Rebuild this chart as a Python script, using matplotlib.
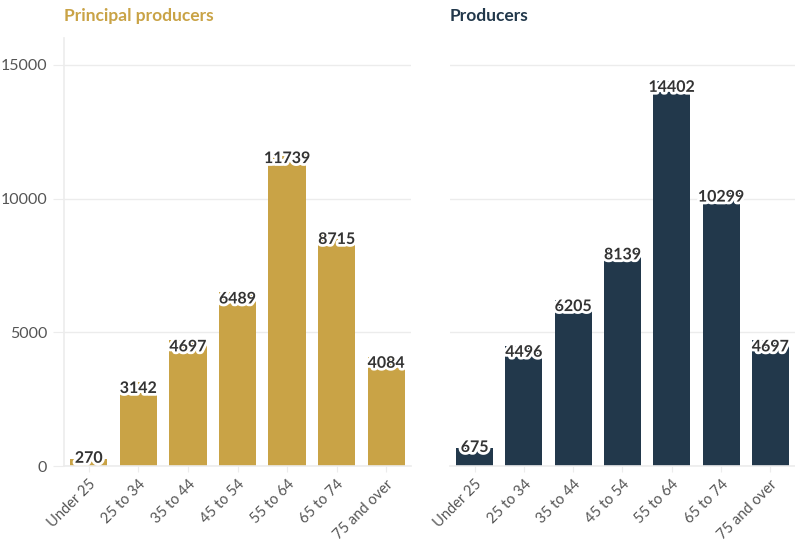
import matplotlib
matplotlib.use("Agg")
import matplotlib.pyplot as plt
import matplotlib.patheffects as pe
import numpy as np

plt.rcParams['font.family'] = ['Lato', 'DejaVu Sans']

ages = ['Under 25', '25 to 34', '35 to 44', '45 to 54', '55 to 64', '65 to 74', '75 and over']
principal = [270, 3142, 4697, 6489, 11739, 8715, 4084]
producers = [675, 4496, 6205, 8139, 14402, 10299, 4697]

gold = '#c9a346'
navy = '#22384b'
grid_c = '#ececec'
tick_c = '#555555'

fig = plt.figure(figsize=(7.95, 5.43), dpi=100)
ax1 = fig.add_axes([0.0805, 0.1418, 0.4365, 0.788])
ax2 = fig.add_axes([0.566, 0.1418, 0.434, 0.788])

x = np.arange(len(ages))

def draw(ax, vals, color, show_y):
    ax.bar(x, vals, width=0.75, color=color, zorder=2)
    ax.set_xlim(-0.5, 6.5)
    ax.set_ylim(0, 16000)
    ax.set_yticks([0, 5000, 10000, 15000])
    ax.grid(axis='y', color=grid_c, linewidth=1, zorder=0)
    for s in ['top', 'right']:
        ax.spines[s].set_visible(False)
    ax.spines['bottom'].set_color(grid_c)
    ax.spines['bottom'].set_linewidth(1.2)
    if show_y:
        ax.spines['left'].set_color(grid_c)
        ax.spines['left'].set_linewidth(1.2)
        ax.tick_params(axis='y', length=8, color=grid_c, labelsize=11.5,
                       labelcolor=tick_c, pad=4)
    else:
        ax.spines['left'].set_visible(False)
        ax.tick_params(axis='y', length=0, labelleft=False)
    ax.set_xticks(x)
    ax.set_xticklabels(ages, rotation=45, ha='right', rotation_mode='anchor')
    ax.tick_params(axis='x', length=4, color=grid_c, labelsize=10.5,
                   labelcolor=tick_c, pad=4)
    for xi, v in zip(x, vals):
        # small bars get the label centred on the bar top
        va = 'center' if v < 1000 else 'top'
        ax.text(xi, v, str(v), ha='center', va=va, fontsize=11.5,
                fontweight='bold', color='#333333', zorder=3,
                path_effects=[pe.withStroke(linewidth=4, foreground='white')])

draw(ax1, principal, gold, True)
draw(ax2, producers, navy, False)

fig.text(64 / 795, 1 - 16 / 543, 'Principal producers', ha='left', va='center',
         fontsize=12.5, fontweight='bold', color=gold)
fig.text(450 / 795, 1 - 16 / 543, 'Producers', ha='left', va='center',
         fontsize=12.5, fontweight='bold', color=navy)

fig.savefig('out.png', dpi=100)
